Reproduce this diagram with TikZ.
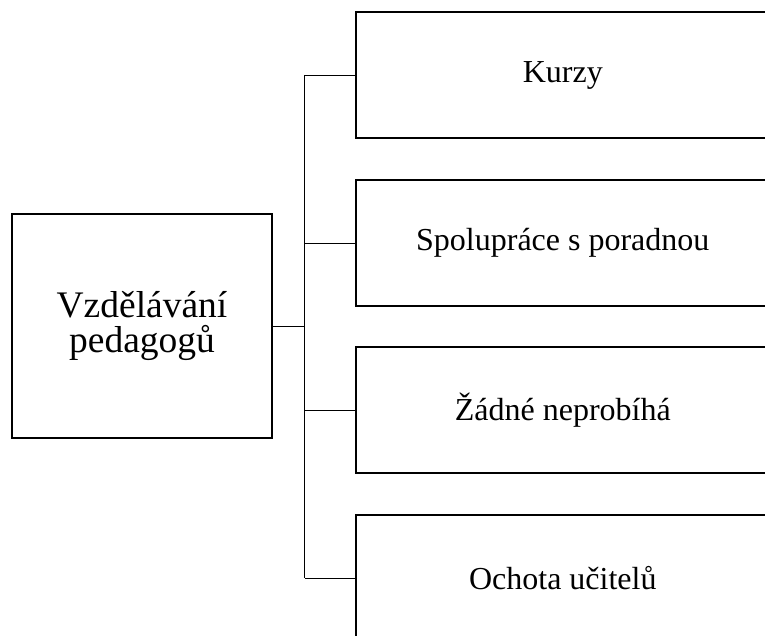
\documentclass[tikz,border=0pt]{standalone}
\usepackage{fontspec}
\setmainfont{Liberation Serif}
\usetikzlibrary{positioning}
\tikzset{
x=1pt, y=-1pt, % pixel-like units, y runs down
box/.style={draw, line width=1.6pt, fill=white}, % the outlined boxes
bigbox/.style={box, minimum width=260pt, minimum height=224pt, align=center, font=\fontsize{37.5}{35.5}\selectfont},
itembox/.style={box, anchor=west, minimum width=414pt, minimum height=126pt, font=\fontsize{32}{36}\selectfont},
link/.style={line width=0.8pt}, % the thin connectors
}

\begin{document}
\begin{tikzpicture}
    \useasboundingbox (0,0) rectangle (765,636);
    \clip (0,0) rectangle (765,636);
    \node[bigbox] (root) at (142,326) {Vzdělávání\\pedagogů};
    \node[itembox] (kurzy) at (355,75) {Kurzy};
    \node[itembox] (spoluprace) at (355,243) {Spolupráce s poradnou};
    \node[itembox] (zadne) at (355,410) {Žádné neprobíhá};
    \node[itembox] (ochota) at (355,578) {Ochota učitelů};
    \draw[link] (root.east) -- ++(32,0) coordinate (hub);
    \draw[link] (hub |- kurzy.west) -- (hub |- ochota.west);
    \draw[link]
    (hub |- kurzy.west) -- (kurzy.west)
    (hub |- spoluprace.west) -- (spoluprace.west)
    (hub |- zadne.west) -- (zadne.west)
    (hub |- ochota.west) -- (ochota.west);
\end{tikzpicture}
\end{document}
